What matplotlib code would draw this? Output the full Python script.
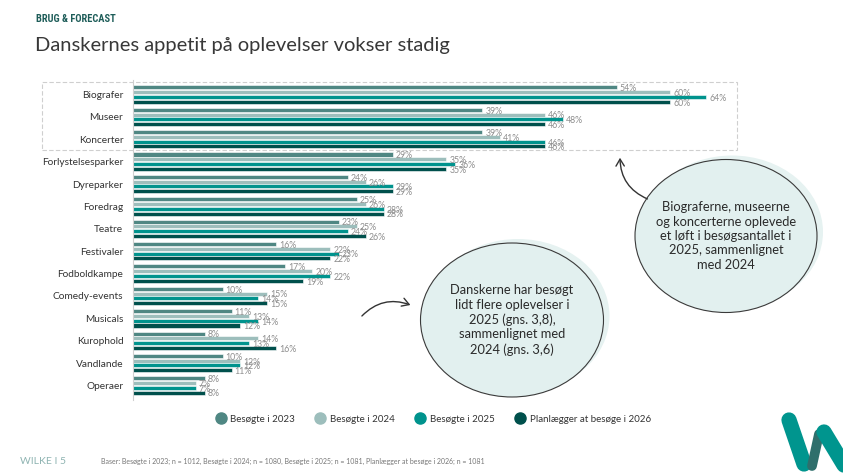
import matplotlib.pyplot as plt
from matplotlib.patches import Ellipse, Rectangle, FancyArrowPatch
from matplotlib.lines import Line2D
import numpy as np

categories = ["Biografer", "Museer", "Koncerter", "Forlystelsesparker", "Dyreparker",
              "Foredrag", "Teatre", "Festivaler", "Fodboldkampe", "Comedy-events",
              "Musicals", "Kurophold", "Vandlande", "Operaer"]
v2023 = [54, 39, 39, 29, 24, 25, 23, 16, 17, 10, 11, 8, 10, 8]
v2024 = [60, 46, 41, 35, 26, 26, 25, 22, 20, 15, 13, 14, 12, 7]
v2025 = [64, 48, 46, 36, 29, 28, 24, 23, 22, 14, 14, 13, 12, 7]
v2026 = [60, 46, 46, 35, 29, 28, 26, 22, 19, 15, 12, 16, 11, 8]
series_names = ["Besøgte i 2023", "Besøgte i 2024", "Besøgte i 2025", "Planlægger at besøge i 2026"]
colors = ["#4f8783", "#9dbebc", "#00938d", "#00504c"]

W, H = 843, 475
fig = plt.figure(figsize=(W / 100, H / 100), dpi=100)
plt.rcParams['font.family'] = ['Lato', 'DejaVu Sans']


def px(x, y):
    return (x / W, 1 - y / H)


ax = fig.add_axes([133 / W, 1 - 400 / H, 600 / W, 320 / H])
y = np.arange(len(categories))
step = 0.214
for k, vals in enumerate([v2023, v2024, v2025, v2026]):
    yy = y + (k - 1.5) * step
    ax.barh(yy, vals, height=0.18, color=colors[k], edgecolor="white", linewidth=0.4)
    for yi, v in zip(yy, vals):
        ax.text(v + 0.35, yi + 0.06, f"{v}%", fontsize=6.3, color="#8d8d8d",
                va="center", ha="left")

ax.set_xlim(0, 67)
ax.set_ylim(13.65, -0.65)
ax.set_yticks(y)
ax.set_yticklabels(categories, fontsize=7.3, color="#333333")
ax.tick_params(axis="y", length=0, pad=7)
ax.set_xticks([])
for s in ["top", "right", "bottom"]:
    ax.spines[s].set_visible(False)
ax.spines["left"].set_color("#d0d0d0")
ax.spines["left"].set_linewidth(0.8)

# legend
handles = [Line2D([], [], marker="o", linestyle="", markersize=8, color=c) for c in colors]
fig.legend(handles, series_names, loc="center", bbox_to_anchor=px(431, 419), ncol=4,
           frameon=False, fontsize=7, handletextpad=0.0, columnspacing=1.6,
           labelcolor="#333333")

# dashed box around the top three categories
x0, y0 = px(42, 150)
x1, y1 = px(737, 82)
fig.add_artist(Rectangle((x0, y0), x1 - x0, y1 - y0, transform=fig.transFigure,
                         fill=False, edgecolor="#cfcfcf", linestyle=(0, (4, 2)), lw=0.8))

# titles
fig.text(*px(36, 19), "BRUG & FORECAST", fontsize=7.5, weight="bold", color="#1e5d59",
         va="center", ha="left", family=["Roboto Condensed", "Roboto", "DejaVu Sans"])
fig.text(*px(35, 46), "Danskernes appetit på oplevelser vokser stadig", fontsize=14.5,
         weight="normal", color="#383838", va="center", ha="left")

# footer
fig.text(*px(20, 461), "WILKE I 5", fontsize=7.5, color="#8fb4b2", va="center", ha="left")
fig.text(*px(101, 461), "Baser: Besøgte i 2023; n = 1012, Besøgte i 2024; n = 1080, "
         "Besøgte i 2025; n = 1081, Planlægger at besøge i 2026; n = 1081",
         fontsize=5, color="#777777", va="center", ha="left")

# bubbles
bubbles = [
    ((512, 320), 183, 154, "Danskerne har besøgt\nlidt flere oplevelser i\n2025 (gns. 3,8),\nsammenlignet med\n2024 (gns. 3,6)"),
    ((726, 236), 182, 153, "Biograferne, museerne\nog koncerterne oplevede\net løft i besøgsantallet i\n2025, sammenlignet\nmed 2024"),
]
for (cx, cy), bw, bh, txt in bubbles:
    fig.add_artist(Ellipse(px(cx + 6, cy - 4), bw / W, bh / H, transform=fig.transFigure,
                           facecolor="#e6f2f1", edgecolor="none"))
    fig.add_artist(Ellipse(px(cx, cy), bw / W, bh / H, transform=fig.transFigure,
                           facecolor="#e2f0ef", edgecolor="#3a3a3a", lw=0.8))
    fig.text(*px(cx, cy), txt, fontsize=9.3, color="#2a2a2a", ha="center", va="center",
             linespacing=1.25)

# arrows
fig.add_artist(FancyArrowPatch(px(360, 318), px(413, 306), transform=fig.transFigure,
                               connectionstyle="arc3,rad=-0.35", arrowstyle="->,head_length=5,head_width=3",
                               color="#333333", lw=1))
fig.add_artist(FancyArrowPatch(px(650, 200), px(620, 155), transform=fig.transFigure,
                               connectionstyle="arc3,rad=-0.35", arrowstyle="->,head_length=5,head_width=3",
                               color="#333333", lw=1))

# logo
fig.add_artist(Line2D([789 / W, 804 / W], [1 - 420 / H, 1 - 464 / H], transform=fig.transFigure,
                      lw=11, color="#00958e", solid_capstyle="round"))
fig.add_artist(Line2D([819 / W, 812 / W], [1 - 434 / H, 1 - 466 / H], transform=fig.transFigure,
                      lw=7, color="#2f6f6c", solid_capstyle="round"))
fig.add_artist(Line2D([824 / W, 850 / W], [1 - 432 / H, 1 - 475 / H], transform=fig.transFigure,
                      lw=11, color="#00958e", solid_capstyle="round"))

fig.savefig("out.png", dpi=100)
